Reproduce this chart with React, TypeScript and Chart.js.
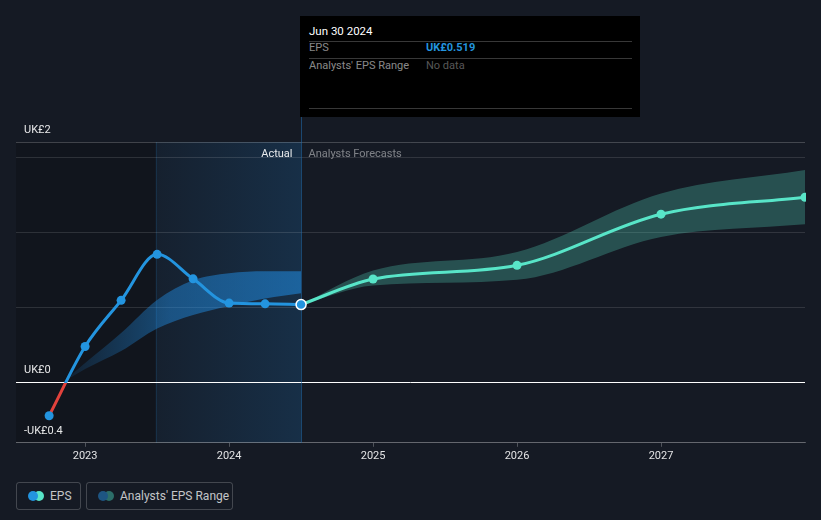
import React, { useEffect, useRef } from "react";
import { Chart, registerables } from "chart.js";

Chart.register(...registerables);

// ---- data ----
const actualDates = [2022.75, 2023.0, 2023.25, 2023.5, 2023.75, 2024.0, 2024.25, 2024.5];
const actualEps = [-0.22, 0.24, 0.547, 0.853, 0.69, 0.529, 0.524, 0.519];

const pastRangeDates = [2022.84, 2023.0, 2023.25, 2023.5, 2023.75, 2024.0, 2024.25, 2024.5];
const pastRangeLow = [0.0, 0.09, 0.21, 0.36, 0.45, 0.51, 0.56, 0.595];
const pastRangeHigh = [0.0, 0.13, 0.33, 0.55, 0.68, 0.727, 0.74, 0.74];

const forecastDates = [2024.5, 2025.0, 2026.0, 2027.0, 2028.0];
const forecastEps = [0.519, 0.689, 0.78, 1.12, 1.233];
const forecastLow = [0.519, 0.646, 0.684, 0.969, 1.053];
const forecastHigh = [0.519, 0.745, 0.869, 1.258, 1.413];

const xTickYears = [2023, 2024, 2025, 2026, 2027];
const yGridValues = [-0.4, 0, 0.5, 1, 1.5, 1.6];
const yLabelValues = [1.6, 0, -0.4];
const yLabelTexts = ["UK£2", "UK£0", "-UK£0.4"];

const xMin = 2022.52;
const xMax = 2028.0;
const yMin = -0.4;
const yMax = 1.6;
const pastStart = 2023.49;
const todayX = 2024.5;

const BG = "rgb(21,26,36)";
const BLUE = "rgb(35,148,223)";
const RED = "rgb(226,66,60)";
const TEAL = "rgb(88,229,200)";
const FONT = "Roboto, 'Noto Sans', sans-serif";

const toXY = (xs: number[], ys: number[]) => xs.map((x, i) => ({ x, y: ys[i] }));

const decorPlugin = {
  id: "decor",
  beforeDraw(chart: any) {
    const { ctx, chartArea, scales } = chart;
    const x = scales.x;
    ctx.save();
    ctx.fillStyle = BG;
    ctx.fillRect(0, 0, chart.width, chart.height);
    const xs = x.getPixelForValue(pastStart);
    const xt = x.getPixelForValue(todayX);
    ctx.fillStyle = "rgba(0,0,0,0.17)";
    ctx.fillRect(chartArea.left, chartArea.top, xs - chartArea.left, chartArea.bottom - chartArea.top);
    const g = ctx.createLinearGradient(xs, 0, xt, 0);
    g.addColorStop(0, "rgba(33,150,243,0.05)");
    g.addColorStop(1, "rgba(33,150,243,0.17)");
    ctx.fillStyle = g;
    ctx.fillRect(xs, chartArea.top, xt - xs, chartArea.bottom - chartArea.top);
    // faint line at start of past-range region
    const xsl = Math.round(xs) + 0.5;
    ctx.strokeStyle = "rgba(33,120,190,0.18)";
    ctx.lineWidth = 1;
    ctx.beginPath();
    ctx.moveTo(xsl, chartArea.top);
    ctx.lineTo(xsl, chartArea.bottom);
    ctx.stroke();
    ctx.restore();
  },
  beforeDatasetsDraw(chart: any) {
    const { ctx, chartArea, scales } = chart;
    const xt = Math.round(scales.x.getPixelForValue(todayX)) + 0.5;
    ctx.save();
    ctx.strokeStyle = "rgba(33,110,175,0.55)";
    ctx.lineWidth = 1;
    ctx.beginPath();
    ctx.moveTo(xt, 117);
    ctx.lineTo(xt, chartArea.bottom);
    ctx.stroke();
    ctx.font = `11px ${FONT}`;
    ctx.textBaseline = "middle";
    ctx.textAlign = "right";
    ctx.fillStyle = "rgba(255,255,255,0.9)";
    ctx.fillText("Actual", xt - 9, chartArea.top + 12);
    ctx.textAlign = "left";
    ctx.fillStyle = "rgba(255,255,255,0.45)";
    ctx.fillText("Analysts Forecasts", xt + 7, chartArea.top + 12);
    // y labels
    ctx.fillStyle = "rgba(255,255,255,0.9)";
    ctx.textAlign = "left";
    yLabelValues.forEach((v, i) => {
      const py = scales.y.getPixelForValue(v);
      ctx.fillText(yLabelTexts[i], chartArea.left + 8, py - 12);
    });
    ctx.restore();
  },
};

function lineGradient(ctx: any) {
  const chart = ctx.chart;
  const { chartArea, scales } = chart;
  if (!chartArea) return BLUE;
  const y0 = scales.y.getPixelForValue(0);
  const g = chart.ctx.createLinearGradient(0, chartArea.top, 0, chartArea.bottom);
  const s = Math.min(1, Math.max(0, (y0 - chartArea.top) / (chartArea.bottom - chartArea.top)));
  g.addColorStop(0, BLUE);
  g.addColorStop(s, BLUE);
  g.addColorStop(s, RED);
  g.addColorStop(1, RED);
  return g;
}

function pastBandFill(ctx: any) {
  const chart = ctx.chart;
  const { chartArea, scales } = chart;
  if (!chartArea) return "rgba(33,150,243,0.45)";
  const x0 = scales.x.getPixelForValue(pastRangeDates[0]);
  const x1 = scales.x.getPixelForValue(pastRangeDates[pastRangeDates.length - 1]);
  const g = chart.ctx.createLinearGradient(x0, 0, x1, 0);
  g.addColorStop(0, "rgba(33,150,243,0.08)");
  g.addColorStop(0.45, "rgba(33,150,243,0.42)");
  g.addColorStop(1, "rgba(33,150,243,0.5)");
  return g;
}

export default function App() {
  const ref = useRef<HTMLCanvasElement | null>(null);

  useEffect(() => {
    if (!ref.current) return;
    const n = actualEps.length;
    const chart = new Chart(ref.current, {
      type: "line",
      data: {
        datasets: [
          {
            data: toXY(actualDates, actualEps),
            borderColor: lineGradient as any,
            borderWidth: 3,
            cubicInterpolationMode: "monotone",
            pointRadius: actualEps.map((_, i) => (i === n - 1 ? 5 : 4.5)),
            pointBackgroundColor: BLUE,
            pointBorderColor: actualEps.map((_, i) => (i === n - 1 ? "#ffffff" : BLUE)),
            pointBorderWidth: actualEps.map((_, i) => (i === n - 1 ? 1.5 : 0)),
            fill: false,
            order: 0,
          },
          {
            data: toXY(forecastDates, forecastEps),
            borderColor: TEAL,
            borderWidth: 3,
            cubicInterpolationMode: "monotone",
            pointRadius: forecastEps.map((_, i) => (i === 0 ? 0 : 4.5)),
            pointBackgroundColor: TEAL,
            pointBorderWidth: 0,
            fill: false,
            clip: 1,
            order: 1,
          },
          {
            data: toXY(pastRangeDates, pastRangeLow),
            borderWidth: 0,
            pointRadius: 0,
            cubicInterpolationMode: "monotone",
            fill: false,
            order: 3,
          },
          {
            data: toXY(pastRangeDates, pastRangeHigh),
            borderWidth: 0,
            pointRadius: 0,
            cubicInterpolationMode: "monotone",
            fill: "-1",
            backgroundColor: pastBandFill as any,
            order: 3,
          },
          {
            data: toXY(forecastDates, forecastLow),
            borderWidth: 0,
            pointRadius: 0,
            cubicInterpolationMode: "monotone",
            fill: false,
            order: 3,
          },
          {
            data: toXY(forecastDates, forecastHigh),
            borderWidth: 0,
            pointRadius: 0,
            cubicInterpolationMode: "monotone",
            fill: "-1",
            backgroundColor: "rgba(88,229,200,0.27)",
            order: 3,
          },
        ],
      },
      options: {
        animation: false,
        responsive: false,
        events: [],
        layout: { padding: { left: 16, right: 16, top: 142, bottom: 4 } },
        plugins: { legend: { display: false }, tooltip: { enabled: false } },
        scales: {
          x: {
            type: "linear",
            min: xMin,
            max: xMax,
            afterBuildTicks: (s: any) => {
              s.ticks = xTickYears.map((v) => ({ value: v }));
            },
            ticks: {
              color: "rgba(255,255,255,0.88)",
              font: { family: FONT, size: 11 },
              padding: 3,
              maxRotation: 0,
              callback: (v: any) => String(v),
            },
            grid: {
              drawOnChartArea: false,
              drawTicks: true,
              tickLength: 4,
              color: "rgba(255,255,255,0.25)",
            },
            border: { display: true, color: "rgba(255,255,255,0.25)", width: 1 },
          },
          y: {
            type: "linear",
            min: yMin,
            max: yMax,
            afterBuildTicks: (s: any) => {
              s.ticks = yGridValues.map((v) => ({ value: v }));
            },
            ticks: { display: false },
            grid: {
              drawTicks: false,
              color: (c: any) =>
                c.tick && c.tick.value === 0
                  ? "#ffffff"
                  : c.tick && c.tick.value === 1.6
                  ? "rgba(255,255,255,0.2)"
                  : "rgba(255,255,255,0.12)",
              lineWidth: 1,
            },
            border: { display: false },
          },
        },
      },
      plugins: [decorPlugin],
    });
    return () => chart.destroy();
  }, []);

  const txt: React.CSSProperties = { position: "absolute", fontFamily: FONT, fontSize: 11, lineHeight: "14px", whiteSpace: "nowrap" };

  return (
    <div style={{ position: "fixed", left: 0, top: 0, width: 821, height: 520, background: BG, overflow: "hidden" }}>
      <canvas ref={ref} width={821} height={470} style={{ position: "absolute", left: 0, top: 0, width: 821, height: 470 }} />
      {/* tooltip */}
      <div style={{ position: "absolute", left: 300, top: 16, width: 340, height: 101, background: "#000" }}>
        <div style={{ ...txt, left: 9, top: 8, color: "#fff", fontSize: 11.5 }}>Jun 30 2024</div>
        <div style={{ position: "absolute", left: 9, top: 25, width: 323, height: 1, background: "rgba(255,255,255,0.22)" }} />
        <div style={{ ...txt, left: 9, top: 25, color: "rgba(255,255,255,0.55)" }}>EPS</div>
        <div style={{ ...txt, left: 126, top: 25, color: BLUE, fontWeight: 700 }}>UK£0.519</div>
        <div style={{ position: "absolute", left: 9, top: 42, width: 323, height: 1, background: "rgba(255,255,255,0.22)" }} />
        <div style={{ ...txt, left: 9, top: 43, color: "rgba(255,255,255,0.55)" }}>Analysts' EPS Range</div>
        <div style={{ ...txt, left: 126, top: 43, color: "rgba(255,255,255,0.35)" }}>No data</div>
        <div style={{ position: "absolute", left: 9, top: 92, width: 323, height: 1, background: "rgba(255,255,255,0.22)" }} />
      </div>
      {/* legend */}
      <div style={{ position: "absolute", left: 16, top: 482, width: 63, height: 26, border: "1px solid rgba(255,255,255,0.2)", borderRadius: 3 }}>
        <div style={{ position: "absolute", left: 17, top: 8, width: 10, height: 10, borderRadius: 5, background: TEAL }} />
        <div style={{ position: "absolute", left: 11, top: 8, width: 10, height: 10, borderRadius: 5, background: BLUE }} />
        <div style={{ ...txt, left: 33, top: 6, fontSize: 12, color: "rgba(255,255,255,0.75)" }}>EPS</div>
      </div>
      <div style={{ position: "absolute", left: 86, top: 482, width: 145, height: 26, border: "1px solid rgba(255,255,255,0.2)", borderRadius: 3 }}>
        <div style={{ position: "absolute", left: 17, top: 8, width: 10, height: 10, borderRadius: 5, background: "rgb(44,110,105)" }} />
        <div style={{ position: "absolute", left: 11, top: 8, width: 10, height: 10, borderRadius: 5, background: "rgb(30,85,130)" }} />
        <div style={{ ...txt, left: 33, top: 6, fontSize: 12, color: "rgba(255,255,255,0.75)" }}>Analysts' EPS Range</div>
      </div>
    </div>
  );
}
